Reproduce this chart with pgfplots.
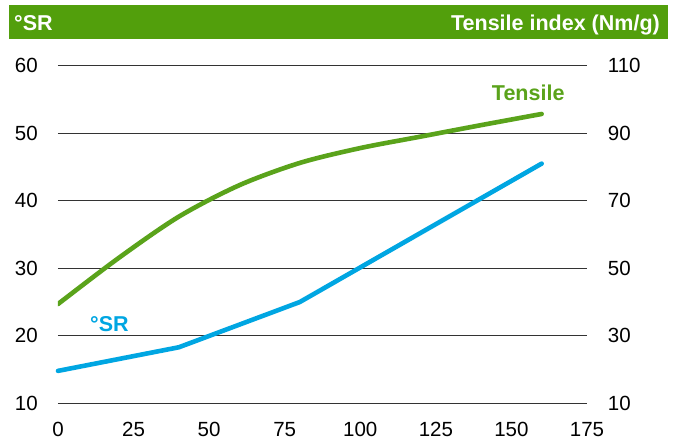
\documentclass[border=0pt]{standalone}
\usepackage{fontspec}
\setmainfont{Liberation Sans}
\usepackage{pgfplots}
\pgfplotsset{compat=1.18}
\definecolor{hdrgreen}{HTML}{529F0C}
\definecolor{tgreen}{HTML}{5AA31B}
\definecolor{srblue}{HTML}{00A6E2}
\begin{document}
\begin{tikzpicture}
  % picture frame: 675 x 441, plot box starts at (58,403) from top-left
  \useasboundingbox[fill=white] (-58pt,-37.7pt) rectangle (617pt,403.3pt);

  % °SR (left axis)
  \begin{axis}[
      at={(0,0)}, anchor=south west,
      scale only axis,
      width=529pt, height=337.6pt,
      xmin=0, xmax=175,
      ymin=10, ymax=60,
      xtick={0,25,...,175},
      ytick={10,20,...,60},
      axis line style={draw=none},
      tick style={draw=none},
      major tick length=0pt,
      ymajorgrids,
      grid style={black!80, line width=0.9pt},
      /pgf/number format/assume math mode=true,
      ticklabel style={font=\fontsize{20.5}{24}\selectfont, inner sep=0pt},
      xticklabel style={anchor=north, yshift=-18.7pt},
      yticklabel style={anchor=east, xshift=-20pt},
      clip=false,
    ]
    \addplot[srblue, line width=4.6pt, line cap=round, line join=round]
      coordinates {(0,14.8) (40,18.3) (80,25.0) (160,45.5)};
    \node[anchor=base west, text=tgreen, inner sep=0pt,
          font=\fontsize{21.5}{25}\selectfont\bfseries]
      at (axis cs:143.5,54.9) {Tensile};
    \node[anchor=base west, text=srblue, inner sep=0pt,
          font=\fontsize{21.5}{25}\selectfont\bfseries]
      at (axis cs:10.6,20.6) {°SR};
  \end{axis}

  % Tensile index (right axis)
  \begin{axis}[
      at={(0,0)}, anchor=south west,
      scale only axis,
      width=529pt, height=337.6pt,
      xmin=0, xmax=175,
      ymin=10, ymax=110,
      ytick={10,30,...,110},
      axis x line=none,
      axis y line*=right,
      axis line style={draw=none},
      tick style={draw=none},
      major tick length=0pt,
      /pgf/number format/assume math mode=true,
      ticklabel style={font=\fontsize{20.5}{24}\selectfont, inner sep=0pt},
      yticklabel style={anchor=west, xshift=20.7pt},
    ]
    \addplot[tgreen, line width=4.6pt, line cap=round, smooth]
      coordinates {(0,39.4) (20,53.0) (40,65.3) (60,74.6) (80,81.2)
                   (100,85.6) (120,89.0) (140,92.4) (160,95.7)};
  \end{axis}

  % header bar
  \fill[hdrgreen] (-49pt,364.3pt) rectangle (610pt,398.3pt);
  \node[anchor=base west, inner sep=0pt, text=white,
        font=\fontsize{21.5}{25}\selectfont\bfseries]
    at (-44pt,372.6pt) {°SR};
  \node[anchor=base east, inner sep=0pt, text=white,
        font=\fontsize{21.5}{25}\selectfont\bfseries]
    at (602pt,372.6pt) {Tensile index (Nm/g)};
\end{tikzpicture}
\end{document}
